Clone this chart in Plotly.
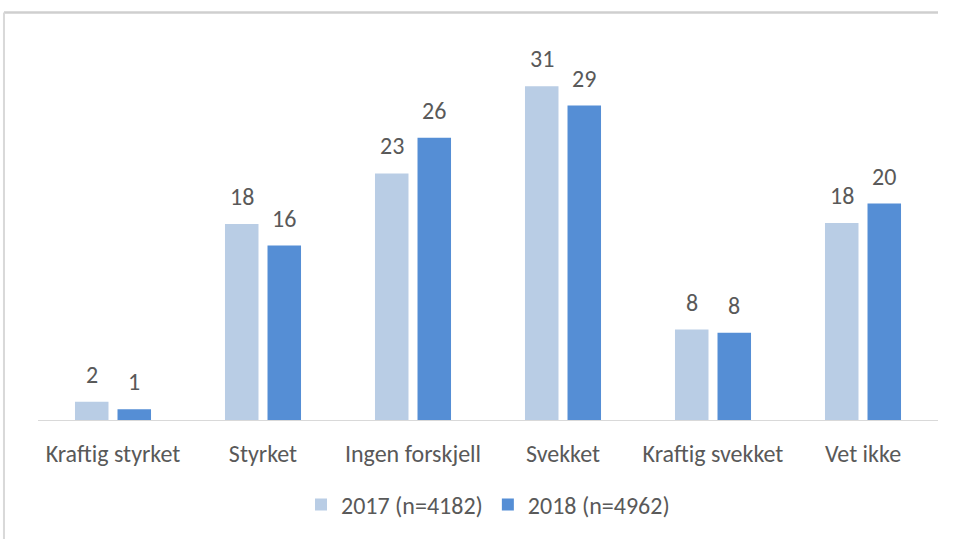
import plotly.graph_objects as go

categories = ["Kraftig styrket", "Styrket", "Ingen forskjell", "Svekket", "Kraftig svekket", "Vet ikke"]
values_2017 = [1.7, 18.2, 22.9, 31.0, 8.4, 18.3]
values_2018 = [1.0, 16.2, 26.2, 29.2, 8.1, 20.1]
labels_2017 = ["2", "18", "23", "31", "8", "18"]
labels_2018 = ["1", "16", "26", "29", "8", "20"]
series_names = ["2017 (n=4182)", "2018 (n=4962)"]
colors = ["#B9CDE5", "#558ED5"]

font_family = "Carlito, Lato, sans-serif"
gray = "#595959"
fsize = 24

fig = go.Figure()
for vals, name, col in zip([values_2017, values_2018], series_names, colors):
    fig.add_trace(go.Bar(x=categories, y=vals, name=name,
                         marker=dict(color=col, line=dict(width=0))))

annotations = []
for labels, vals, shift in [(labels_2017, values_2017, -21), (labels_2018, values_2018, 21)]:
    for cat, v, lab in zip(categories, vals, labels):
        annotations.append(dict(x=cat, y=v, xref="x", yref="y", text=lab, showarrow=False,
                                xshift=shift, yshift=11, yanchor="bottom",
                                font=dict(size=fsize, color=gray, family=font_family)))

border = "#D9D9D9"
fig.update_layout(
    width=955, height=539,
    paper_bgcolor="white", plot_bgcolor="white",
    margin=dict(l=38, r=17, t=42, b=115),
    barmode="group", bargap=0.433, bargroupgap=0.212,
    font=dict(family=font_family, color=gray, size=fsize),
    showlegend=True,
    legend=dict(orientation="h", x=0.5, xanchor="center", y=-0.165, yanchor="top",
                font=dict(size=fsize, color=gray), traceorder="normal"),
    xaxis=dict(showline=True, linecolor=border, linewidth=1, ticks="",
               ticklabelstandoff=12,
               tickfont=dict(size=fsize, color=gray), showgrid=False),
    yaxis=dict(range=[0, 35.1], visible=False, showgrid=False, zeroline=False),
    annotations=annotations,
    shapes=[
        dict(type="line", xref="paper", yref="paper", x0=-0.0378, x1=1.0, y0=1.078, y1=1.078,
             line=dict(color="#CFCFCF", width=2.5)),
        dict(type="line", xref="paper", yref="paper", x0=-0.0378, x1=-0.0378, y0=1.078, y1=-0.32,
             line=dict(color=border, width=2)),
    ],
)

fig.write_html("out.html", config={"displayModeBar": False},
               post_script="document.body.style.margin='0';")
